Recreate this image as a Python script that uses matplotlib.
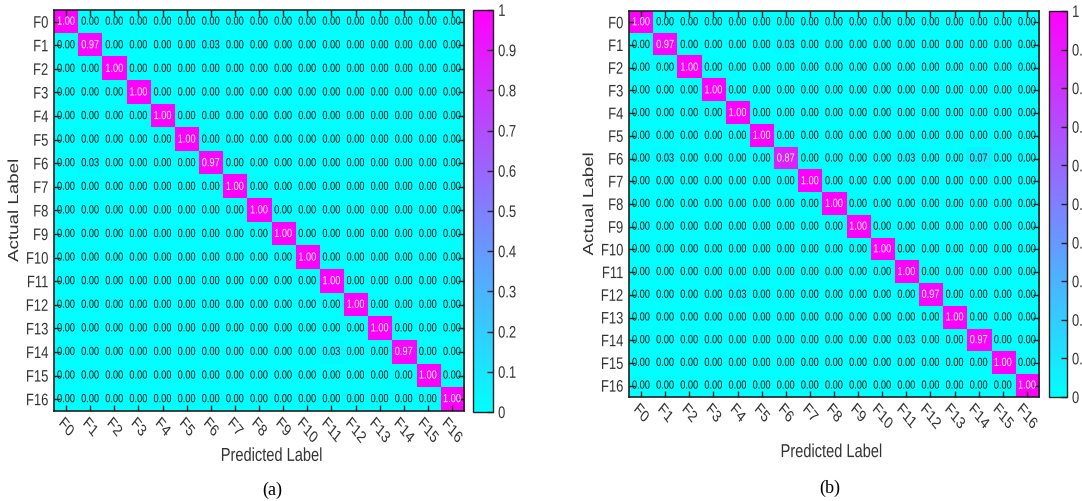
import numpy as np
import matplotlib
matplotlib.use('Agg')
import matplotlib.pyplot as plt
from matplotlib.patheffects import AbstractPathEffect
from matplotlib.transforms import Affine2D

labels = ['F%d' % i for i in range(17)]

# diagonal (correct) rates and the few off-diagonal confusions, (row, col, value)
diag_a = [1.00, 0.97, 1.00, 1.00, 1.00, 1.00, 0.97, 1.00, 1.00, 1.00, 1.00, 1.00, 1.00, 1.00, 0.97, 1.00, 1.00]
off_a = [(1, 6, 0.03), (6, 1, 0.03), (14, 11, 0.03)]

diag_b = [1.00, 0.97, 1.00, 1.00, 1.00, 1.00, 0.87, 1.00, 1.00, 1.00, 1.00, 1.00, 0.97, 1.00, 0.97, 1.00, 1.00]
off_b = [(1, 6, 0.03), (6, 1, 0.03), (6, 11, 0.03), (6, 14, 0.07), (12, 4, 0.03), (14, 11, 0.03)]

cbar_ticks = [0, 0.1, 0.2, 0.3, 0.4, 0.5, 0.6, 0.7, 0.8, 0.9, 1]
cbar_ticklabels = ['0', '0.1', '0.2', '0.3', '0.4', '0.5', '0.6', '0.7', '0.8', '0.9', '1']

plt.rcParams['font.family'] = ['Liberation Sans', 'DejaVu Sans']

SX = 0.78  # horizontal squeeze applied to all plot text


class Squeeze(AbstractPathEffect):
    # squeeze drawn text along the screen x axis (narrow look, also for rotated text)
    def __init__(self, sx=SX, anchor='center'):
        super().__init__()
        self.sx = sx
        self.anchor = anchor

    def draw_path(self, renderer, gc, tpath, affine, rgbFace=None):
        ext = tpath.get_extents(affine)
        if self.anchor == 'right':
            cx = ext.x1
        elif self.anchor == 'left':
            cx = ext.x0
        else:
            cx = (ext.x0 + ext.x1) / 2
        sq = Affine2D().translate(-cx, 0).scale(self.sx, 1).translate(cx, 0)
        renderer.draw_path(gc, tpath, affine + sq, rgbFace)


def build(diag, off):
    m = np.zeros((len(diag), len(diag)))
    for i, v in enumerate(diag):
        m[i, i] = v
    for r, c, v in off:
        m[r, c] = v
    return m


def draw_cm(ax, cax, cm, xlab_pos, ylab_x):
    n = cm.shape[0]
    im = ax.imshow(cm, cmap='cool', vmin=0, vmax=1, aspect='auto', interpolation='nearest')
    for i in range(n):
        for j in range(n):
            v = cm[i, j]
            ax.text(j, i, '%.2f' % v, ha='center', va='center', fontsize=8.5,
                    color='white' if v > 0.5 else '#111111',
                    path_effects=[Squeeze()])
    ax.set_xticks(range(n))
    ax.set_yticks(range(n))
    ax.set_xticklabels(labels, rotation=-45, fontsize=12, color='#333333')
    ax.set_yticklabels(labels, fontsize=12, color='#333333')
    for t in ax.get_xticklabels():
        t.set_path_effects([Squeeze()])
    for t in ax.get_yticklabels():
        t.set_path_effects([Squeeze(anchor='right')])
    ax.tick_params(direction='in', length=4, width=1, top=True, right=True,
                   labeltop=False, labelright=False, color='#222222')
    ax.tick_params(axis='y', pad=4)
    ax.tick_params(axis='x', pad=3)
    for s in ax.spines.values():
        s.set_linewidth(1.2)
        s.set_color('#222222')
    ax.set_xlabel('Predicted Label', fontsize=13.5, color='#333333',
                  path_effects=[Squeeze()])
    ax.set_ylabel('Actual Label', fontsize=13.5, color='#333333',
                  path_effects=[Squeeze(anchor='right')])
    ax.xaxis.set_label_coords(*xlab_pos)
    ax.yaxis.set_label_coords(ylab_x, 0.5)

    cb = plt.colorbar(im, cax=cax)
    cb.set_ticks(cbar_ticks)
    cb.set_ticklabels(cbar_ticklabels)
    cb.ax.tick_params(direction='in', length=4, width=1, labelsize=12,
                      labelcolor='#333333', color='#222222')
    for t in cb.ax.get_yticklabels():
        t.set_path_effects([Squeeze(anchor='left')])
    cb.outline.set_linewidth(1.0)
    cb.outline.set_edgecolor('#222222')


fig = plt.figure(figsize=(10.82, 5.02), dpi=100)

ax_a = fig.add_axes([0.0499, 0.1793, 0.379, 0.799])
cax_a = fig.add_axes([0.4372, 0.1773, 0.0185, 0.801])
draw_cm(ax_a, cax_a, build(diag_a, off_a), (0.53, -0.092), -0.078)

ax_b = fig.add_axes([0.5813, 0.2072, 0.379, 0.769])
cax_b = fig.add_axes([0.9695, 0.2072, 0.0166, 0.769])
draw_cm(ax_b, cax_b, build(diag_b, off_b), (0.493, -0.122), -0.078)

fig.text(272 / 1082, 1 - 490 / 502, '(a)', ha='center', va='center',
         fontsize=13, family=['Liberation Serif', 'DejaVu Serif'])
fig.text(830 / 1082, 1 - 488 / 502, '(b)', ha='center', va='center',
         fontsize=13, family=['Liberation Serif', 'DejaVu Serif'])

fig.savefig('out.png', dpi=100)
